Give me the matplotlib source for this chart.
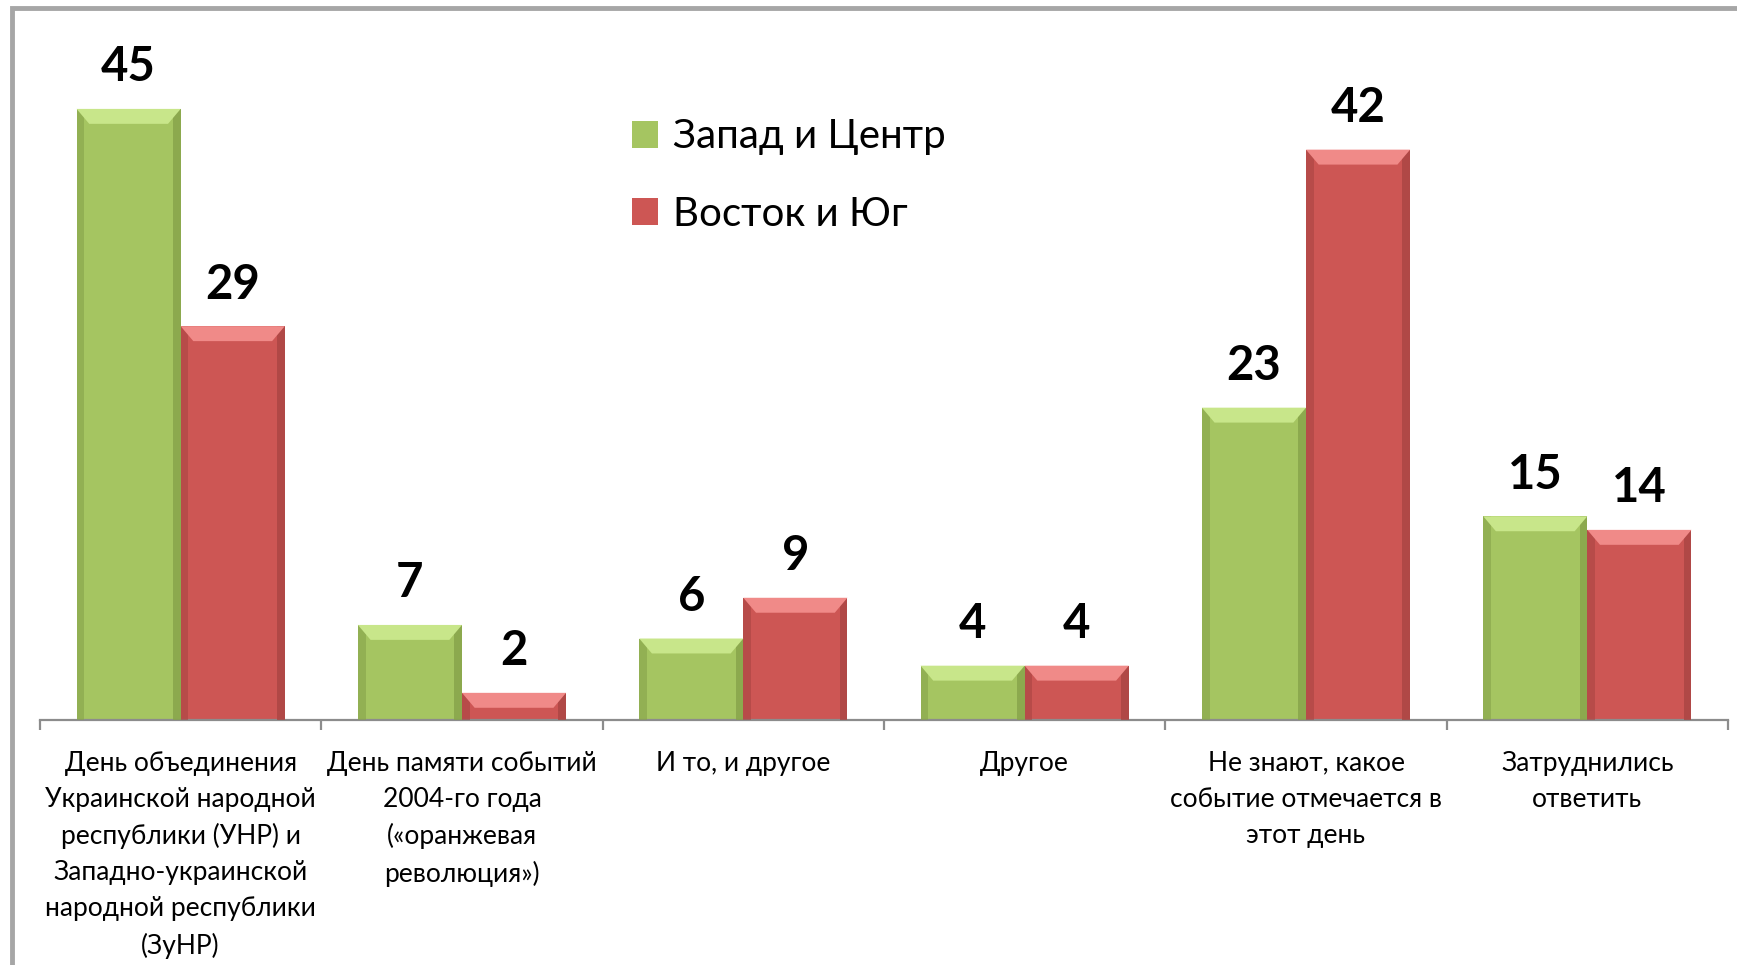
import matplotlib
matplotlib.use('Agg')
import matplotlib.pyplot as plt
import numpy as np
from matplotlib.patches import Polygon, Rectangle

plt.rcParams['font.family'] = ['Lato', 'DejaVu Sans']

categories = [
    'День объединения\nУкраинской народной\nреспублики (УНР) и\nЗападно-украинской\nнародной республики\n(ЗуНР)',
    'День памяти событий\n2004-го года\n(«оранжевая\nреволюция»)',
    'И то, и другое',
    'Другое',
    'Не знают, какое\nсобытие отмечается в\nэтот день',
    'Затруднились\nответить',
]
west_center = [45, 7, 6, 4, 23, 15]
east_south = [29, 2, 9, 4, 42, 14]
series_names = ['Запад и Центр', 'Восток и Юг']

green = '#a5c561'
red = '#cd5654'
green_top = '#c8e68a'
red_top = '#f08a88'
green_side = '#86a24a'
red_side = '#a94543'

fig = plt.figure(figsize=(17.37, 9.65), dpi=100)
ax = fig.add_axes([40 / 1737, 1 - 720 / 965, 1688 / 1737, 712 / 965])

x = np.arange(len(categories))
w = 0.37
bars_w = ax.bar(x - w / 2, west_center, w, color=green, label=series_names[0], zorder=2)
bars_e = ax.bar(x + w / 2, east_south, w, color=red, label=series_names[1], zorder=2)

ax.set_xlim(-0.5, len(categories) - 0.5)
ax.set_ylim(0, 712 / 13.58)

# bevel look on each bar
dx, dy = 0.045, 1.1
for bars, top_c, side_c in [(bars_w, green_top, green_side), (bars_e, red_top, red_side)]:
    for b in bars:
        bx, bw, bh = b.get_x(), b.get_width(), b.get_height()
        ax.add_patch(Rectangle((bx, 0), dx * 0.6, bh, color=side_c, alpha=0.6, lw=0, zorder=3))
        ax.add_patch(Rectangle((bx + bw - dx * 0.6, 0), dx * 0.6, bh, color=side_c, alpha=0.8, lw=0, zorder=3))
        ax.add_patch(Polygon([(bx, bh), (bx + bw, bh), (bx + bw - dx, bh - dy), (bx + dx, bh - dy)],
                             closed=True, color=top_c, lw=0, zorder=4))
        ax.annotate(f'{int(bh)}', (bx + bw / 2, bh), xytext=(0, 14), textcoords='offset points',
                    ha='center', va='bottom', fontsize=34, fontweight='bold', color='black')

for s in ['top', 'right', 'left']:
    ax.spines[s].set_visible(False)
ax.spines['bottom'].set_color('#8c8c8c')
ax.spines['bottom'].set_linewidth(1.6)
ax.set_yticks([])

ax.set_xticks(np.arange(len(categories) + 1) - 0.5, minor=False)
ax.set_xticklabels([])
ax.tick_params(axis='x', which='major', direction='out', length=7, width=1.6, color='#8c8c8c')
ax.set_xticks(x, minor=True)
ax.set_xticklabels(categories, minor=True, fontsize=19, linespacing=1.55)
ax.tick_params(axis='x', which='minor', length=0, pad=22)

leg = ax.legend(loc='upper left', bbox_to_anchor=(596 / 1737, 1 - 82 / 965), bbox_transform=fig.transFigure,
                frameon=False, fontsize=29, handlelength=0.65, handleheight=0.65, handletextpad=0.35,
                labelspacing=1.0)

# outer frame
fig.patches.append(Rectangle((12 / 1737, -0.05), 1.1, 1.05 - 8 / 965, transform=fig.transFigure,
                             fill=False, edgecolor='#a6a6a6', linewidth=3.5, zorder=10))

fig.savefig('out.png', dpi=100)
